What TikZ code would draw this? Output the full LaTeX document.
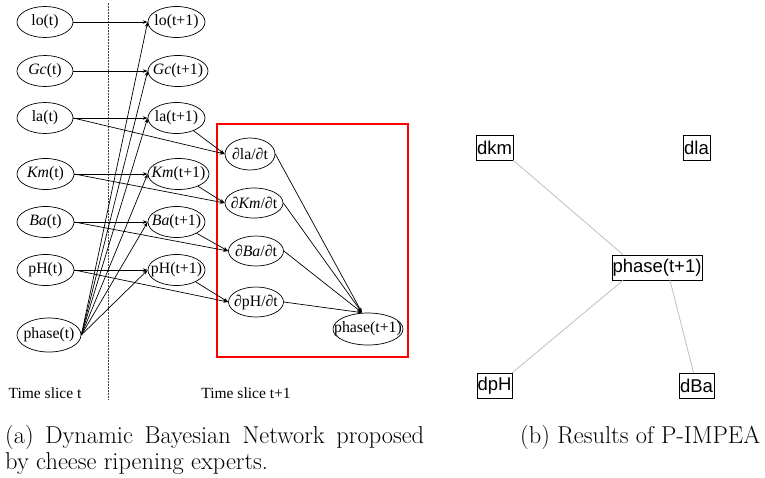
\documentclass[tikz,border=0pt]{standalone}
\usepackage{fontspec}
\newfontfamily\tnr{Liberation Serif}
\newfontfamily\arial{Liberation Sans}
\usetikzlibrary{shapes.geometric,arrows.meta}
\begin{document}
\begin{tikzpicture}[x=1pt,y=-1pt,
  el/.style={ellipse,draw,line width=0.7pt,inner sep=0pt,minimum height=31pt},
  every label/.style={font=\tnr\fontsize{15.8}{19}\selectfont,inner sep=0pt},
  ar/.style={line width=0.7pt,-{Stealth[length=5pt,width=3.5pt]}},
  bx/.style={draw,line width=0.7pt,inner sep=0pt,minimum height=25pt,font=\arial\fontsize{18.5}{22}\selectfont},
  ge/.style={draw=black!25,line width=0.8pt},
  lbl/.style={font=\tnr\fontsize{15.5}{18}\selectfont,inner sep=0pt}]
\useasboundingbox (0,0) rectangle (765,477);
% time slice t
\node[el,minimum width=56pt,label={center:lo(t)}] (lo0) at (45,22) {};
\node[el,minimum width=56pt,label={center:{\textit{Gc}(t)}}] (gc0) at (45,71) {};
\node[el,minimum width=56pt,label={center:la(t)}] (la0) at (45,118) {};
\node[el,minimum width=57pt,label={center:{\textit{Km}(t)}}] (km0) at (45.5,174) {};
\node[el,minimum width=57pt,label={center:{\textit{Ba}(t)}}] (ba0) at (45.5,222) {};
\node[el,minimum width=57pt,label={center:pH(t)}] (ph0) at (45.5,270) {};
\node[el,minimum width=64pt,minimum height=34pt,label={center:phase(t)}] (fa0) at (49,335) {};
% time slice t+1
\node[el,minimum width=57pt,label={center:lo(t+1)}] (lo1) at (176.5,22) {};
\node[el,minimum width=60pt,label={center:{\textit{Gc}(t+1)}}] (gc1) at (178,71) {};
\node[el,minimum width=57pt,label={center:la(t+1)}] (la1) at (176.5,118) {};
\node[el,minimum width=61pt,label={center:{\textit{Km}(t+1)}}] (km1) at (178.5,174) {};
\node[el,minimum width=57pt,label={center:{\textit{Ba}(t+1)}}] (ba1) at (176.5,222) {};
\node[el,minimum width=57pt,label={center:pH(t+1)}] (ph1) at (176.5,270) {};
% derivatives
\node[el,minimum width=50pt,minimum height=32pt,label={center:∂la/∂t}] (dla) at (250,154) {};
\node[el,minimum width=58pt,minimum height=30pt,label={center:{∂\textit{Km}/∂t}}] (dkm) at (254,203) {};
\node[el,minimum width=55pt,minimum height=30pt,label={center:{∂\textit{Ba}/∂t}}] (dba) at (256,251) {};
\node[el,minimum width=55pt,minimum height=30pt,label={center:∂pH/∂t}] (dph) at (256,302) {};
\node[el,minimum width=70pt,minimum height=32pt,label={center:phase(t+1)}] (fa1) at (368,329) {};
\coordinate (cv) at ([xshift=-6pt]fa1.north);
% red box and slice separator
\draw[red,line width=2pt] (217,124) rectangle (408,357);
\draw[black!75,line width=0.7pt,dash pattern=on 1.5pt off 1.5pt] (108,3) -- (108,400);
\node[lbl] (ts0) at (45,393) {Time slice t};
\node[lbl] (ts1) at (246,393) {Time slice t+1};
% edges
\foreach \a/\b in {lo0/lo1,gc0/gc1,la0/la1,km0/km1,ba0/ba1,ph0/ph1}
  \draw[ar] (\a.east) -- (\b.west);
\foreach \a/\b in {la0/dla,km0/dkm,ba0/dba,ph0/dph}
  \draw[ar] (\a.east) -- (\b.west);
\foreach \a/\b in {la1/dla,km1/dkm,ba1/dba,ph1/dph}
  \draw[ar] (\a) -- (\b.west);
\foreach \a in {dla,dkm,dba,dph}
  \draw[ar] (\a.east) -- (cv);
\foreach \b in {lo1,gc1,la1,km1,ba1,ph1}
  \draw[ar] (fa0.east) -- (\b.west);
% right panel
\node[bx,minimum width=37pt] (rkm) at (494.5,147.5) {dkm};
\node[bx,minimum width=27pt] (rla) at (696.5,147.5) {dla};
\node[bx,minimum width=90pt] (rph) at (657,267.5) {phase(t+1)};
\node[bx,minimum width=35pt] (rpH) at (494.5,385.5) {dpH};
\node[bx,minimum width=35pt] (rba) at (696.5,385.5) {dBa};
\draw[ge] (rkm.south east) -- ([xshift=-34pt]rph.north);
\draw[ge] (rpH.north east) -- ([xshift=-34pt]rph.south);
\draw[ge] ([xshift=-3pt]rba.north) -- ([xshift=13pt]rph.south);
% captions
\node[anchor=north west,text width=419pt,align=justify,inner sep=0pt,font=\fontsize{24.4}{26}\selectfont] (capa) at (5,425)
  {(a) Dynamic Bayesian Network proposed\linebreak by cheese ripening experts.};
\node[anchor=base west,inner sep=0pt,font=\fontsize{24.4}{26}\selectfont] (capb) at (520,443) {(b) Results of P-IMPEA};
\end{tikzpicture}
\end{document}
